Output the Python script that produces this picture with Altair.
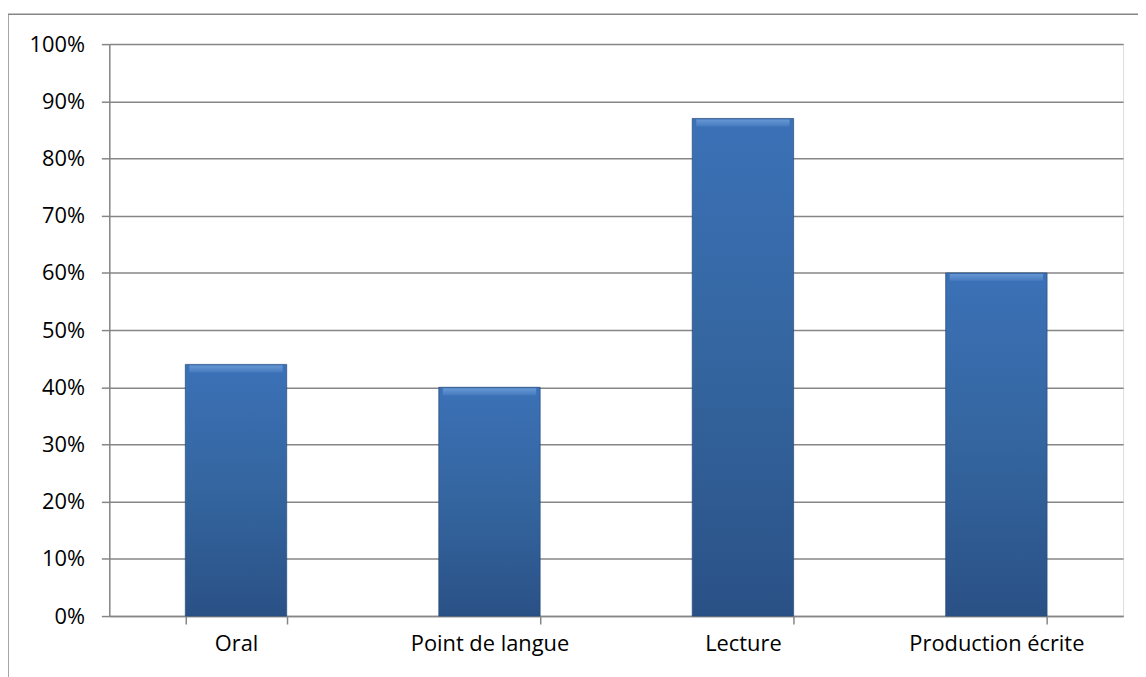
import altair as alt
import pandas as pd

categories = ["Oral", "Point de langue", "Lecture", "Production écrite"]
values = [0.44, 0.40, 0.87, 0.60]
y_ticks = [0, 0.1, 0.2, 0.3, 0.4, 0.5, 0.6, 0.7, 0.8, 0.9, 1.0]

df = pd.DataFrame({"cat": categories, "val": values})

FONT = "Open Sans"
GRID = "#868686"

x_enc = alt.X("cat:N", sort=categories, title=None,
              scale=alt.Scale(paddingInner=0.6, paddingOuter=0.3),
              axis=alt.Axis(labelAngle=0, labelFontSize=22, labelFont=FONT, labelColor="#000000",
                            domainColor=GRID, domainWidth=1.5, tickColor=GRID, tickWidth=1.5,
                            tickSize=8, tickBand="extent", labelPadding=10, grid=False))
y_enc = alt.Y("val:Q", title=None,
              scale=alt.Scale(domain=[0, 1], nice=False),
              axis=alt.Axis(values=y_ticks, format=".0%", labelFontSize=22, labelFont=FONT,
                            labelColor="#000000", domainColor=GRID, domainWidth=1.5,
                            tickColor=GRID, tickWidth=1.5, tickSize=8, labelPadding=17,
                            grid=True, gridColor=GRID, gridWidth=1.5))

bars = alt.Chart(df).mark_bar(
    color=alt.Gradient(
        gradient="linear", x1=0, y1=0, x2=0, y2=1,
        stops=[alt.GradientStop(color="#3b71b7", offset=0),
               alt.GradientStop(color="#34659f", offset=0.5),
               alt.GradientStop(color="#2a5186", offset=1)]),
    stroke="#264a7a", strokeWidth=1, strokeOpacity=0.7,
).encode(x=x_enc, y=y_enc)

highlight = alt.Chart(df).mark_tick(
    color=alt.Gradient(
        gradient="linear", x1=0, y1=0, x2=0, y2=1,
        stops=[alt.GradientStop(color="#7aa8e0", offset=0),
               alt.GradientStop(color="#4b80c4", offset=1)]),
    thickness=7, size=94, yOffset=4.5, orient="horizontal",
).encode(x=alt.X("cat:N", sort=categories), y=alt.Y("val:Q"))

border_df = pd.DataFrame({"a": [0]})
left_border = alt.Chart(border_df).mark_rule(color=GRID, strokeWidth=1.5).encode(
    x=alt.value(-102), y=alt.value(-30), y2=alt.value(700))
top_border = alt.Chart(border_df).mark_rule(color=GRID, strokeWidth=1.5).encode(
    x=alt.value(-102), x2=alt.value(1040), y=alt.value(-30))

chart = alt.layer(bars, highlight, left_border, top_border).properties(
    width=1021, height=576,
    padding={"left": 102, "top": 34, "right": 15, "bottom": 59},
    autosize="none",
).configure_view(stroke=None).configure(background="#ffffff")

chart.save("out.html", embed_options={"renderer": "svg", "actions": False})
